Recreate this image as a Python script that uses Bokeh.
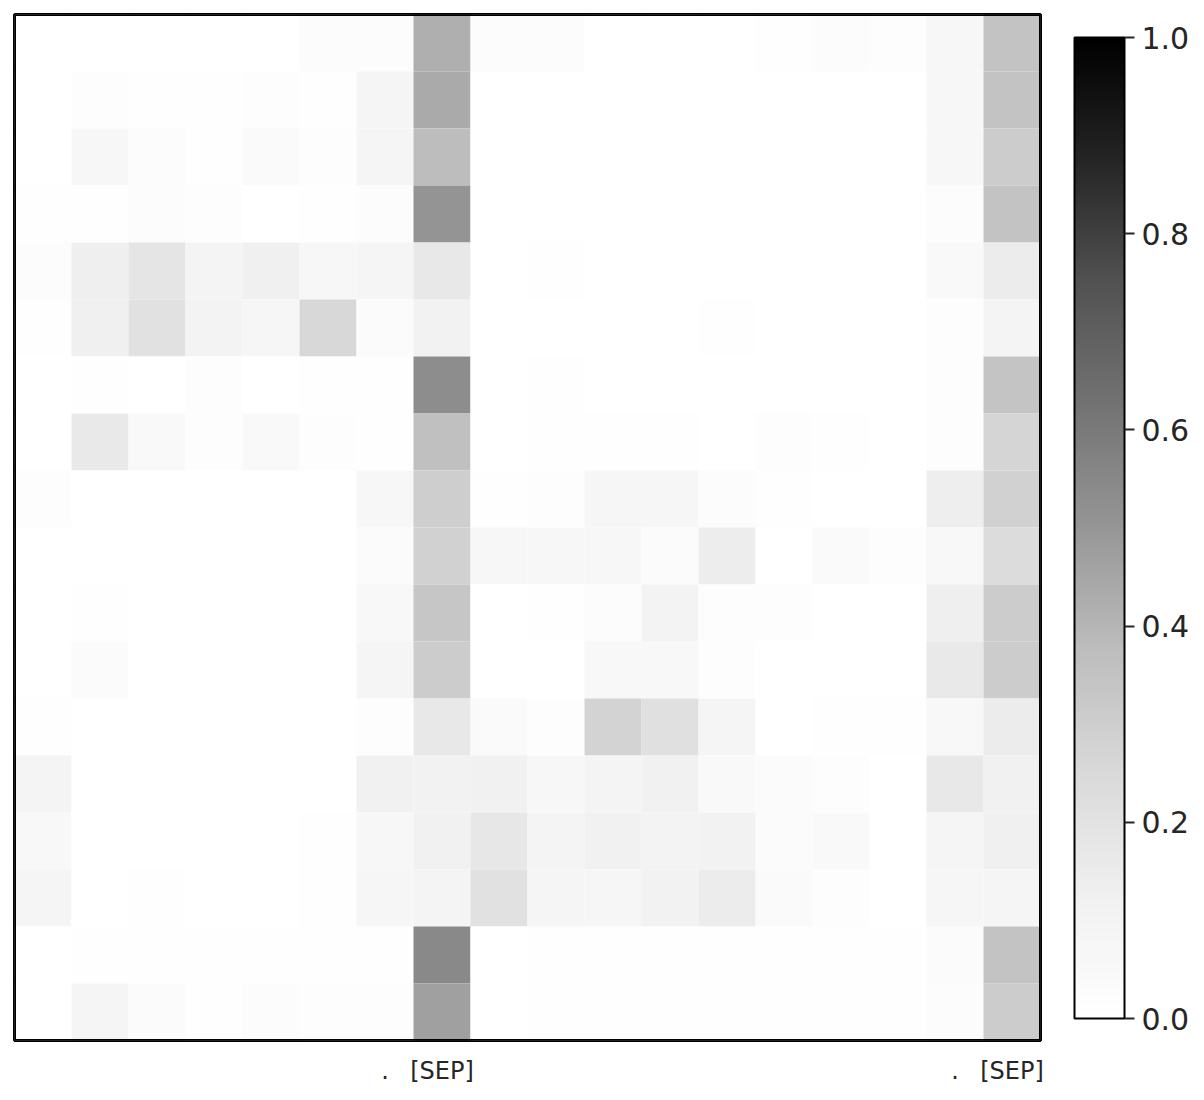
import numpy as np
from bokeh.plotting import figure
from bokeh.models import (ColumnDataSource, LinearColorMapper, ColorBar, FixedTicker,
                          PrintfTickFormatter, Range1d, BoxAnnotation)
from bokeh.embed import file_html
from bokeh.resources import INLINE

# token labels along the x axis (only some tokens are labelled)
x_labels = ["", "", "", "", "", "", ".", "[SEP]", "", "", "", "", "", "", "", "", ".", "[SEP]"]

# attention weights, one list per row (top to bottom)
row_00 = [0, 0, 0, 0, 0, 0.025, 0.025, 0.420, 0.025, 0.025, 0, 0, 0, 0.008, 0.025, 0.017, 0.067, 0.348]
row_01 = [0, 0.017, 0.008, 0.008, 0.017, 0.008, 0.083, 0.436, 0, 0, 0, 0, 0, 0, 0, 0, 0.067, 0.348]
row_02 = [0, 0.067, 0.025, 0.008, 0.042, 0.017, 0.083, 0.375, 0, 0, 0, 0, 0, 0, 0, 0, 0.067, 0.308]
row_03 = [0.008, 0.008, 0.025, 0.017, 0, 0.008, 0.025, 0.504, 0, 0, 0, 0, 0, 0, 0, 0, 0.025, 0.348]
row_04 = [0.025, 0.130, 0.185, 0.092, 0.125, 0.067, 0.083, 0.168, 0, 0.008, 0, 0, 0, 0, 0, 0, 0.050, 0.152]
row_05 = [0.008, 0.125, 0.207, 0.100, 0.075, 0.254, 0.033, 0.108, 0, 0, 0, 0, 0.008, 0, 0, 0, 0.017, 0.092]
row_06 = [0, 0.008, 0, 0.017, 0, 0.008, 0.008, 0.532, 0, 0.008, 0, 0, 0, 0, 0, 0, 0.017, 0.344]
row_07 = [0, 0.163, 0.050, 0.017, 0.050, 0.017, 0.008, 0.362, 0, 0.008, 0.008, 0.008, 0, 0.017, 0.008, 0, 0.017, 0.268]
row_08 = [0.017, 0, 0, 0, 0, 0, 0.067, 0.299, 0.008, 0.017, 0.075, 0.075, 0.025, 0.008, 0, 0, 0.136, 0.286]
row_09 = [0, 0, 0, 0, 0, 0, 0.033, 0.286, 0.067, 0.067, 0.067, 0.033, 0.141, 0, 0.042, 0.017, 0.058, 0.234]
row_10 = [0, 0.008, 0, 0, 0, 0, 0.058, 0.335, 0, 0.008, 0.025, 0.100, 0.017, 0.017, 0, 0, 0.130, 0.312]
row_11 = [0, 0.033, 0, 0, 0, 0, 0.083, 0.312, 0, 0, 0.058, 0.058, 0.017, 0, 0, 0, 0.163, 0.312]
row_12 = [0.008, 0, 0, 0, 0, 0, 0.017, 0.168, 0.042, 0.017, 0.281, 0.212, 0.083, 0, 0.008, 0.008, 0.058, 0.147]
row_13 = [0.092, 0, 0, 0, 0, 0, 0.117, 0.108, 0.117, 0.067, 0.092, 0.117, 0.050, 0.033, 0.017, 0, 0.168, 0.117]
row_14 = [0.058, 0, 0, 0, 0, 0.008, 0.067, 0.117, 0.174, 0.092, 0.117, 0.100, 0.108, 0.033, 0.050, 0, 0.083, 0.125]
row_15 = [0.083, 0, 0.008, 0, 0, 0.008, 0.075, 0.092, 0.207, 0.083, 0.075, 0.108, 0.147, 0.042, 0.017, 0, 0.075, 0.083]
row_16 = [0, 0.008, 0.008, 0.008, 0.008, 0.008, 0.008, 0.546, 0, 0.008, 0.008, 0.008, 0.008, 0.008, 0.008, 0.008, 0.033, 0.348]
row_17 = [0, 0.083, 0.033, 0.008, 0.025, 0.017, 0.017, 0.465, 0, 0.008, 0.008, 0.008, 0.008, 0.008, 0.008, 0.008, 0.025, 0.312]

rows = [row_00, row_01, row_02, row_03, row_04, row_05, row_06, row_07, row_08,
        row_09, row_10, row_11, row_12, row_13, row_14, row_15, row_16, row_17]

colorbar_ticks = [0.0, 0.2, 0.4, 0.6, 0.8, 1.0]

# Greys colormap (ColorBrewer anchors, white -> black), interpolated to 256 steps
anchors = ["#ffffff", "#f0f0f0", "#d9d9d9", "#bdbdbd", "#969696",
           "#737373", "#525252", "#252525", "#000000"]
anc = np.array([[int(h[i:i + 2], 16) for i in (1, 3, 5)] for h in anchors], dtype=float)
pos = np.linspace(0, 1, len(anchors))
t = np.linspace(0, 1, 256)
palette = []
for tv in t:
    r, g, b = (np.interp(tv, pos, anc[:, k]) for k in range(3))
    palette.append("#%02x%02x%02x" % (int(round(r)), int(round(g)), int(round(b))))

n_rows = len(rows)
n_cols = len(x_labels)
xs, ys, vals = [], [], []
for i, r in enumerate(rows):
    for j, v in enumerate(r):
        xs.append(j)
        ys.append(i)
        vals.append(v)
source = ColumnDataSource(dict(x=xs, y=ys, v=vals))

mapper = LinearColorMapper(palette=palette, low=0.0, high=1.0)

p = figure(frame_width=1026, frame_height=1026,
           x_range=Range1d(-0.5, n_cols - 0.5), y_range=Range1d(n_rows - 0.5, -0.5),
           output_backend="svg", toolbar_location=None,
           min_border_left=14, min_border_top=14, min_border_right=0, min_border_bottom=0)

p.rect(x="x", y="y", width=1, height=1, source=source,
       fill_color={"field": "v", "transform": mapper}, line_color=None)

p.grid.visible = False
p.yaxis.visible = False
p.background_fill_color = "white"
p.outline_line_color = "black"
p.outline_line_width = 3
p.outline_line_alpha = 1.0

frame_box = BoxAnnotation(left=-0.5, right=n_cols - 0.5, top=-0.5, bottom=n_rows - 0.5,
                          fill_alpha=0, fill_color=None, line_color="black", line_alpha=1.0,
                          line_width=3, level="overlay")
p.add_layout(frame_box)

p.xaxis.ticker = FixedTicker(ticks=[j for j, l in enumerate(x_labels) if l])
p.xaxis.major_label_overrides = {j: l for j, l in enumerate(x_labels) if l}
p.xaxis.axis_line_color = None
p.xaxis.major_tick_line_color = None
p.xaxis.minor_tick_line_color = None
p.xaxis.major_tick_out = 0
p.xaxis.major_tick_in = 0
p.xaxis.major_label_standoff = 16
p.xaxis.major_label_text_font = "DejaVu Sans"
p.xaxis.major_label_text_font_size = "24px"
p.xaxis.major_label_text_color = "#262626"

cb = ColorBar(color_mapper=mapper, ticker=FixedTicker(ticks=colorbar_ticks),
              formatter=PrintfTickFormatter(format="%.1f"),
              width=50, height=981, padding=0, margin=0, location=(34, 22),
              major_label_text_font="DejaVu Sans", major_label_text_font_size="30px",
              major_label_text_color="#262626",
              major_tick_line_color="#262626", major_tick_line_width=2,
              major_tick_out=10, major_tick_in=0, minor_tick_line_color=None,
              label_standoff=7, bar_line_color="black", bar_line_width=2,
              border_line_color=None, background_fill_color=None)
p.add_layout(cb, "right")

open("out.html", "w").write(file_html(p, INLINE))
